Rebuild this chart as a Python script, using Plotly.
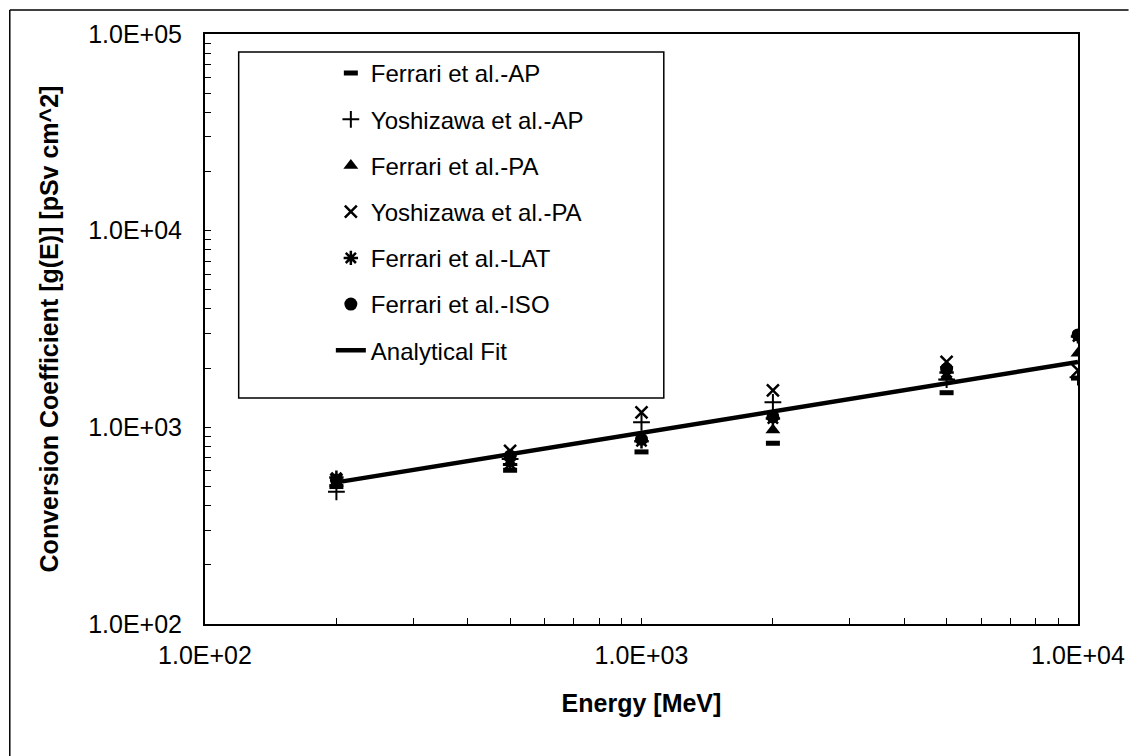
import plotly.graph_objects as go

# ---- data ----
energy = [200, 500, 1000, 2000, 5000, 10000]
ferrari_ap = [500, 605, 750, 830, 1500, 1780]
yoshizawa_ap = [470, 690, 1060, 1340, 1750, 1800]
ferrari_pa = [520, 660, 880, 970, 1800, 2380]
yoshizawa_pa = [540, 760, 1190, 1540, 2150, 1950]
ferrari_lat = [555, 650, 850, 1110, 1900, 2900]
ferrari_iso = [540, 715, 870, 1130, 1980, 2950]
fit_energy = [200, 10000]
fit_value = [525, 2150]

x_tickvals = [100, 1000, 10000]
x_ticktext = ["1.0E+02", "1.0E+03", "1.0E+04"]
y_tickvals = [100, 1000, 10000, 100000]
y_ticktext = ["1.0E+02", "1.0E+03", "1.0E+04", "1.0E+05"]

W, H = 1137, 756
L, R, T, B = 205, 1086, 34, 624  # plot area in pixels


def px(x):
    return (x - L) / (R - L)


def py(y):
    return (B - y) / (B - T)


fig = go.Figure()
series = [
    ("Ferrari et al.-AP", ferrari_ap, dict(symbol="line-ew", size=10, line=dict(width=5, color="black"))),
    ("Yoshizawa et al.-AP", yoshizawa_ap, dict(symbol="cross-thin", size=12, line=dict(width=2, color="black"))),
    ("Ferrari et al.-PA", ferrari_pa, dict(symbol="triangle-up", size=13)),
    ("Yoshizawa et al.-PA", yoshizawa_pa, dict(symbol="x-thin", size=12, line=dict(width=2.5, color="black"))),
    ("Ferrari et al.-LAT", ferrari_lat, dict(symbol="asterisk", size=12, line=dict(width=2.5, color="black"))),
    ("Ferrari et al.-ISO", ferrari_iso, dict(symbol="circle", size=13)),
]
for i, (name, vals, mk) in enumerate(series):
    fig.add_trace(go.Scatter(x=energy, y=vals, mode="markers", name=name,
                             marker=dict(color="black", **mk), legendgroup=f"g{i}"))
fig.add_trace(go.Scatter(x=fit_energy, y=fit_value, mode="lines", name="Analytical Fit",
                         line=dict(color="black", width=4.5), legendgroup="gfit"))

font = "Liberation Sans, Arial, sans-serif"
axis_common = dict(type="log", showline=True, linecolor="black", linewidth=2, mirror=True,
                   showgrid=False, zeroline=False, ticks="inside", ticklen=6, tickwidth=1.2,
                   tickcolor="black", tickfont=dict(family=font, size=25, color="black"),
                   minor=dict(ticks="inside", ticklen=6, tickwidth=1.2, tickcolor="black",
                              dtick="D1", showgrid=False))

fig.update_xaxes(range=[2, 4], tickvals=x_tickvals, ticktext=x_ticktext, ticklabelstandoff=8,
                 title=dict(text="<b>Energy [MeV]</b>", font=dict(family=font, size=25, color="black"),
                            standoff=26), **axis_common)
fig.update_yaxes(range=[2, 5], tickvals=y_tickvals, ticktext=y_ticktext, ticklabelstandoff=16,
                 title=dict(text="<b>Conversion Coefficient [g(E)] [pSv cm^2]</b>",
                            font=dict(family=font, size=25, color="black"), standoff=22), **axis_common)

shapes = [
    # legend box
    dict(type="rect", xref="paper", yref="paper", x0=px(239), x1=px(668), y0=py(398), y1=py(52),
         line=dict(color="black", width=1.5), fillcolor="white", layer="below"),
    # outer chart frame (left and top edges)
    dict(type="line", xref="paper", yref="paper", x0=px(8), x1=px(8), y0=py(760), y1=py(10),
         line=dict(color="black", width=1.5)),
    dict(type="line", xref="paper", yref="paper", x0=px(8), x1=px(1137), y0=py(10), y1=py(10),
         line=dict(color="black", width=1.5)),
]

fig.update_layout(
    width=W, height=H, autosize=False,
    margin=dict(l=L, r=W - R, t=T, b=H - B),
    paper_bgcolor="white", plot_bgcolor="white",
    shapes=shapes,
    showlegend=True,
    legend=dict(x=px(332), y=py(51), xanchor="left", yanchor="top",
                bgcolor="rgba(0,0,0,0)", borderwidth=0,
                font=dict(family=font, size=24, color="black"),
                tracegroupgap=12, traceorder="grouped"),
)

fig.write_html("out.html")
